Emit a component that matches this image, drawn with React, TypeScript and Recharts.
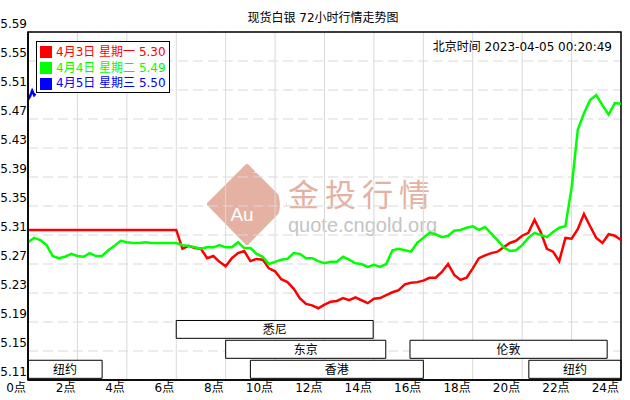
import React from 'react';
import { LineChart, Line, XAxis, YAxis, CartesianGrid, ReferenceArea } from 'recharts';

const FONT = '"DejaVu Sans", "Noto Sans CJK SC", sans-serif';

// one sample every 15 minutes, 0点 -> 24点
const STEP = 0.25;

// 4月3日 星期一
const redVals = [
  5.317, 5.317, 5.317, 5.317, 5.317, 5.317, 5.317, 5.317, 5.317, 5.317, 5.317, 5.317,
  5.317, 5.317, 5.317, 5.317, 5.317, 5.317, 5.317, 5.317, 5.317, 5.317, 5.317, 5.317,
  5.317, 5.291, 5.295, 5.292, 5.291, 5.278, 5.281, 5.273, 5.267, 5.278, 5.285, 5.288,
  5.274, 5.277, 5.276, 5.264, 5.260, 5.249, 5.245, 5.236, 5.223, 5.215, 5.213, 5.209,
  5.214, 5.218, 5.219, 5.223, 5.220, 5.224, 5.220, 5.216, 5.222, 5.223, 5.227, 5.231,
  5.234, 5.242, 5.244, 5.245, 5.247, 5.251, 5.251, 5.259, 5.270, 5.255, 5.248, 5.251,
  5.264, 5.278, 5.282, 5.285, 5.287, 5.293, 5.299, 5.302, 5.309, 5.313, 5.331, 5.314,
  5.291, 5.287, 5.274, 5.306, 5.305, 5.318, 5.339, 5.322, 5.306, 5.299, 5.311, 5.309,
  5.303,
];

// 4月4日 星期二
const greenVals = [
  5.300, 5.306, 5.303, 5.296, 5.281, 5.278, 5.280, 5.284, 5.281, 5.280, 5.285, 5.281,
  5.281, 5.289, 5.295, 5.302, 5.300, 5.299, 5.299, 5.300, 5.299, 5.299, 5.299, 5.299,
  5.299, 5.296, 5.295, 5.293, 5.291, 5.293, 5.293, 5.296, 5.293, 5.293, 5.300, 5.292,
  5.292, 5.284, 5.280, 5.270, 5.273, 5.276, 5.277, 5.285, 5.284, 5.278, 5.278, 5.274,
  5.271, 5.273, 5.273, 5.280, 5.276, 5.271, 5.270, 5.266, 5.269, 5.266, 5.270, 5.289,
  5.291, 5.289, 5.287, 5.299, 5.306, 5.313, 5.311, 5.307, 5.309, 5.316, 5.317, 5.320,
  5.322, 5.317, 5.321, 5.312, 5.303, 5.293, 5.288, 5.289, 5.296, 5.306, 5.313, 5.310,
  5.307, 5.314, 5.320, 5.322, 5.375, 5.455, 5.478, 5.496, 5.503, 5.489, 5.476, 5.492,
  5.491,
];

// 4月5日 星期三 (only the first minutes)
const blueHours = [0, 0.08, 0.17, 0.25, 0.3];
const blueVals = [5.497, 5.501, 5.509, 5.503, 5.505];

const xTicks = [0, 2, 4, 6, 8, 10, 12, 14, 16, 18, 20, 22, 24];
const yTicks = [5.11, 5.15, 5.19, 5.23, 5.27, 5.31, 5.35, 5.39, 5.43, 5.47, 5.51, 5.55, 5.59];

const dayLabels = ['4月3日 星期一', '4月4日 星期二', '4月5日 星期三'];
const lastVals = ['5.30', '5.49', '5.50'];
const seriesColors = ['#ff0000', '#00ff00', '#0000ff'];

// market sessions (hours)
const sessionNames = ['纽约', '悉尼', '东京', '香港', '伦敦', '纽约'];
const sessionStart = [0, 6, 8, 9, 15.46, 20.27];
const sessionEnd = [3, 13.97, 14.48, 16, 23.44, 24];
const sessionLane = [2, 0, 1, 2, 1, 2];
const laneBounds = [
  [5.1675, 5.1921],
  [5.1399, 5.1648],
  [5.1123, 5.1372],
];

const redData = redVals.map((v, i) => ({ h: i * STEP, v }));
const greenData = greenVals.map((v, i) => ({ h: i * STEP, v }));
const blueData = blueVals.map((v, i) => ({ h: blueHours[i], v }));

const XTick = (p: any) => (
  <text x={p.x - 2} y={p.y + 12} textAnchor="end" fontSize={12} fill="#000" fontFamily={FONT}>
    {p.payload.value}点
  </text>
);

const YTick = (p: any) => (
  <text x={p.x - 1} y={p.y - 4} textAnchor="end" fontSize={12} fill="#000" fontFamily={FONT}>
    {Number(p.payload.value).toFixed(2)}
  </text>
);

const Watermark = () => (
  <svg width={630} height={400} style={{ position: 'absolute', left: 0, top: 0 }}>
    <path d="M247,166 L285,204 L247,243 L209,204 Z" fill="#e4b1a2" stroke="#e4b1a2" strokeWidth={4} strokeLinejoin="round" />
    <path d="M252,172 A33,33 0 0 1 257,236 A27,27 0 0 0 252,172 Z" fill="#fff" />
    <text x={242} y={221} textAnchor="middle" fontSize={19} fill="#fff" fontFamily='"Liberation Sans", sans-serif'>Au</text>
    <text x={288} y={206} fontSize={31} letterSpacing={6} fill="#e4b1a2" fontFamily='"Noto Sans CJK SC", sans-serif'>金投行情</text>
    <text x={288} y={232} fontSize={20} fill="#c4c4c4" fontFamily='"Liberation Sans", sans-serif'>quote.cngold.org</text>
  </svg>
);

const Overlay = () => (
  <svg width={630} height={400} style={{ position: 'absolute', left: 0, top: 0, pointerEvents: 'none' }}>
    <text x={323} y={22} textAnchor="middle" fontSize={12} fill="#000" fontFamily={FONT}>现货白银 72小时行情走势图</text>
    <text x={612} y={51} textAnchor="end" fontSize={12} fill="#000" fontFamily={FONT}>北京时间 2023-04-05 00:20:49</text>
    <rect x={36.5} y={41.5} width={133} height={51} fill="#fff" stroke="#000" strokeWidth={1} />
    {dayLabels.map((d, i) => (
      <g key={d}>
        <rect x={40} y={46 + i * 16} width={12} height={12} fill={seriesColors[i]} />
        <text x={56} y={56 + i * 15.5} fontSize={12} fill={seriesColors[i]} fontFamily={FONT}>
          {d} {lastVals[i]}
        </text>
      </g>
    ))}
  </svg>
);

export default function App() {
  return (
    <div style={{ position: 'relative', width: 630, height: 400, background: '#fff' }}>
      <style>{'body{margin:0}'}</style>
      <Watermark />
      <div style={{ position: 'absolute', left: 0, top: 0 }}>
        <LineChart width={630} height={400} margin={{ top: 32, right: 9, left: 0, bottom: 0 }}>
          <CartesianGrid vertical={false} stroke="#d9d9d9" strokeDasharray="10 5" />
          <CartesianGrid horizontal={false} stroke="#d9d9d9" />
          <XAxis
            type="number"
            dataKey="h"
            domain={[0, 24]}
            ticks={xTicks}
            interval={0}
            allowDataOverflow
            height={20}
            tickLine={false}
            tickSize={0}
            tickMargin={0}
            axisLine={{ stroke: '#000', strokeWidth: 1.5 }}
            tick={XTick}
          />
          <YAxis
            type="number"
            domain={[5.11, 5.59]}
            ticks={yTicks}
            interval={0}
            allowDataOverflow
            width={28}
            tickLine={false}
            tickSize={0}
            tickMargin={0}
            axisLine={{ stroke: '#000', strokeWidth: 1.5 }}
            tick={YTick}
          />
          {sessionNames.map((name, i) => (
            <ReferenceArea
              key={name + i}
              x1={sessionStart[i]}
              x2={sessionEnd[i]}
              y1={laneBounds[sessionLane[i]][0]}
              y2={laneBounds[sessionLane[i]][1]}
              fill="#fff"
              fillOpacity={1}
              stroke="#000"
              strokeWidth={1}
              label={{ value: name, position: 'center', fill: '#000', fontSize: 12, fontFamily: FONT }}
            />
          ))}
          <ReferenceArea x1={0} x2={24} y1={5.11} y2={5.59} fill="none" stroke="#000" strokeWidth={1.5} />
          <Line data={redData} dataKey="v" type="linear" stroke="#ff0000" strokeWidth={2.5} dot={false} isAnimationActive={false} />
          <Line data={greenData} dataKey="v" type="linear" stroke="#00ff00" strokeWidth={2.5} dot={false} isAnimationActive={false} />
          <Line data={blueData} dataKey="v" type="linear" stroke="#0000ff" strokeWidth={2.5} dot={false} isAnimationActive={false} />
        </LineChart>
      </div>
      <Overlay />
    </div>
  );
}
